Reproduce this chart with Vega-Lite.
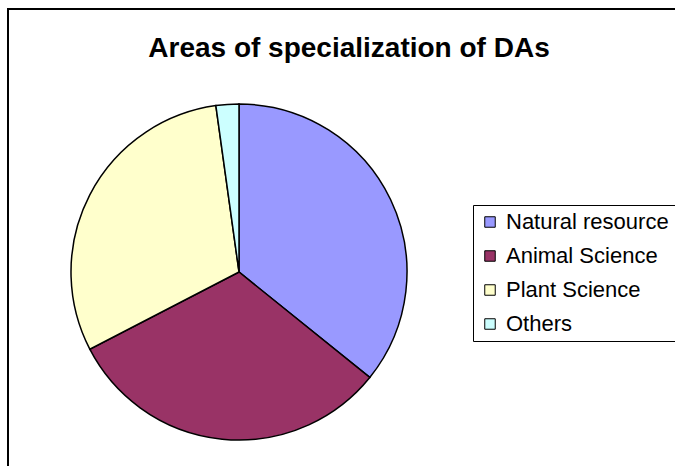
{
  "$schema": "https://vega.github.io/schema/vega-lite/v6.json",
  "autosize": "none",
  "width": 700,
  "height": 500,
  "padding": {"left": 8, "top": 9, "right": 0, "bottom": 0},
  "background": "white",
  "config": {
    "view": {"stroke": "black", "strokeWidth": 2}
  },
  "title": {
    "text": "Areas of specialization of DAs",
    "font": "Liberation Sans",
    "fontSize": 28,
    "fontWeight": "bold",
    "color": "black",
    "anchor": "middle",
    "dx": -9,
    "dy": 86,
    "baseline": "bottom"
  },
  "data": {
    "values": [
      {"area": "Natural resource", "share": 35.8, "order": 1},
      {"area": "Animal Science", "share": 31.6, "order": 2},
      {"area": "Plant Science", "share": 30.4, "order": 3},
      {"area": "Others", "share": 2.2, "order": 4}
    ]
  },
  "mark": {"type": "arc", "radius": 168, "stroke": "black", "strokeWidth": 1.5},
  "encoding": {
    "theta": {"field": "share", "type": "quantitative", "stack": true},
    "order": {"field": "order", "type": "quantitative"},
    "x": {"datum": 0.33, "type": "quantitative", "scale": {"domain": [0, 1]}, "axis": null},
    "y": {"datum": 0.474, "type": "quantitative", "scale": {"domain": [0, 1]}, "axis": null},
    "color": {
      "field": "area",
      "type": "nominal",
      "scale": {
        "domain": ["Natural resource", "Animal Science", "Plant Science", "Others"],
        "range": ["#9999FF", "#993366", "#FFFFCC", "#CCFFFF"]
      },
      "legend": {
        "title": null,
        "orient": "none",
        "legendX": 465,
        "legendY": 196,
        "strokeColor": "black",
        "fillColor": "white",
        "padding": 6,
        "symbolType": "square",
        "symbolSize": 110,
        "symbolStrokeColor": "black",
        "symbolStrokeWidth": 1,
        "labelFont": "Liberation Sans",
        "labelFontSize": 22,
        "labelColor": "black",
        "labelLimit": 400,
        "labelOffset": 5,
        "rowPadding": 12
      }
    }
  }
}
